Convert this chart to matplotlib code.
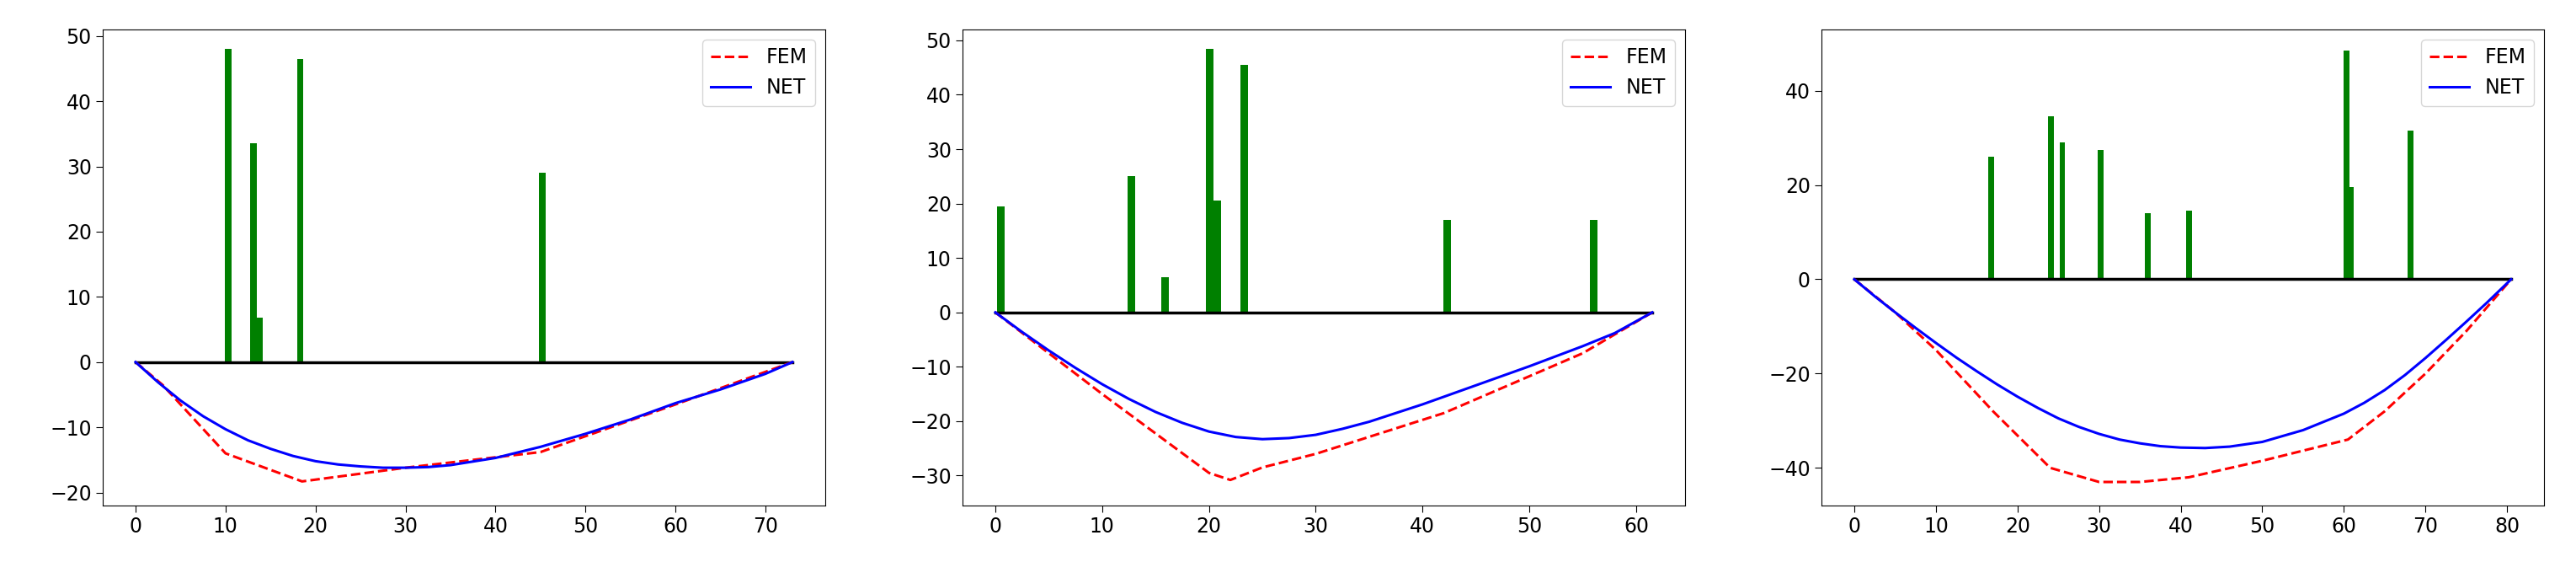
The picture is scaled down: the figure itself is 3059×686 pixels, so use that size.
import numpy as np
import matplotlib
matplotlib.use("Agg")
import matplotlib.pyplot as plt

# ── Panel 1 ──
p1_len = 73
p1_bar_x = [10.3, 13.1, 13.8, 18.3, 45.2]
p1_bar_h = [48, 33.5, 6.8, 46.5, 29]
p1_fem_x = [0, 3, 10, 18.5, 30, 45, 60, 73]
p1_fem_y = [0, -3.5, -14, -18.3, -16.2, -13.8, -6.5, 0]
p1_net_x = [0, 2.5, 5, 7.5, 10, 12.5, 15, 17.5, 20, 22.5, 25, 27.5, 30, 32.5, 35, 40, 45, 50, 55, 60, 65, 70, 73]
p1_net_y = [0, -3.1, -5.9, -8.3, -10.3, -12, -13.3, -14.4, -15.2, -15.7, -16.0, -16.2, -16.2, -16.1, -15.8, -14.7, -13, -11, -8.8, -6.3, -4.2, -1.8, 0]

# ── Panel 2 ──
p2_len = 61.5
p2_bar_x = [0.5, 12.7, 15.9, 20.1, 20.8, 23.3, 42.3, 56.0]
p2_bar_h = [19.5, 25, 6.5, 48.5, 20.5, 45.5, 17, 17]
p2_fem_x = [0, 10, 20, 22, 25, 30, 42, 55, 61.5]
p2_fem_y = [0, -15, -29.5, -30.8, -28.5, -26, -18.5, -7.5, 0]
p2_net_x = [0, 2.5, 5, 7.5, 10, 12.5, 15, 17.5, 20, 22.5, 25, 27.5, 30, 32.5, 35, 40, 45, 50, 55, 58, 61.5]
p2_net_y = [0, -3.6, -7, -10.2, -13.2, -15.9, -18.3, -20.3, -21.9, -22.9, -23.3, -23.1, -22.5, -21.4, -20.1, -16.9, -13.4, -9.9, -6.2, -3.8, 0]

# ── Panel 3 ──
p3_len = 80.5
p3_bar_x = [16.8, 24.1, 25.5, 30.2, 36.0, 41.0, 60.3, 60.9, 68.2]
p3_bar_h = [26, 34.5, 29, 27.5, 14, 14.5, 48.5, 19.5, 31.5]
p3_fem_x = [0, 5, 10, 17, 24, 30, 35, 41, 50, 60.5, 65, 70, 75, 80.5]
p3_fem_y = [0, -7, -15, -28, -40, -43, -43, -42, -38.5, -34, -28, -20, -11, 0]
p3_net_x = [0, 2.5, 5, 7.5, 10, 12.5, 15, 17.5, 20, 22.5, 25, 27.5, 30, 32.5, 35, 37.5, 40, 43, 46, 50, 55, 60, 62.5, 65, 67.5, 70, 72.5, 75, 77.5, 80.5]
p3_net_y = [0, -3.6, -7, -10.3, -13.5, -16.6, -19.5, -22.3, -24.9, -27.3, -29.5, -31.3, -32.8, -34, -34.8, -35.4, -35.7, -35.8, -35.5, -34.5, -32, -28.5, -26.2, -23.5, -20.3, -16.7, -12.9, -9, -5, 0]

panels = [
    (p1_len, p1_bar_x, p1_bar_h, p1_fem_x, p1_fem_y, p1_net_x, p1_net_y, (-22, 51), [-20, -10, 0, 10, 20, 30, 40, 50]),
    (p2_len, p2_bar_x, p2_bar_h, p2_fem_x, p2_fem_y, p2_net_x, p2_net_y, (-35.5, 52), [-30, -20, -10, 0, 10, 20, 30, 40, 50]),
    (p3_len, p3_bar_x, p3_bar_h, p3_fem_x, p3_fem_y, p3_net_x, p3_net_y, (-48, 53), [-40, -20, 0, 20, 40]),
]
lefts = [122, 1143, 2163]

fig = plt.figure(figsize=(30.59, 6.86), dpi=100)
for (L, bx, bh, fx, fy, nx, ny, ylim, yt), left in zip(panels, lefts):
    ax = fig.add_axes([left / 3059, 1 - 600 / 686, 858 / 3059, 565 / 686])
    ax.bar(bx, bh, width=0.7, color="green")
    ax.plot([0, L], [0, 0], color="black", lw=2.5)
    ax.plot(fx, fy, "r--", lw=2.2, label="FEM")
    ax.plot(nx, ny, "b-", lw=2.2, label="NET")
    ax.set_ylim(*ylim)
    ax.set_yticks(yt)
    ax.set_xlim(-L * 0.05, L * 1.05)
    ax.set_xticks(np.arange(0, L + 1, 10))
    ax.tick_params(labelsize=17, length=6)
    ax.legend(loc="upper right", fontsize=17)

fig.savefig("out.png", dpi=100)
